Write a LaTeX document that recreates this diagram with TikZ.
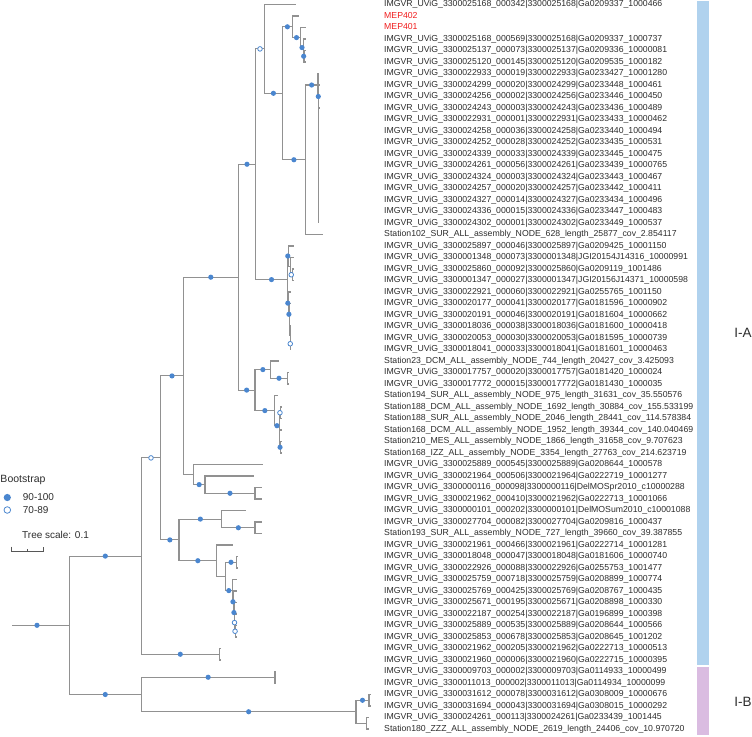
\documentclass[tikz,border=0pt]{standalone}
\usepackage{fontspec}
\setmainfont{Liberation Sans}
\usetikzlibrary{calc}
\definecolor{treegray}{RGB}{145,145,145}
\definecolor{bootblue}{RGB}{74,134,207}
\definecolor{labgray}{RGB}{45,45,45}
\definecolor{mepred}{RGB}{240,30,30}
\definecolor{barA}{RGB}{176,210,238}
\definecolor{barB}{RGB}{218,188,225}
\newcommand\rowy[1]{{4.5+(#1-1)*11.5}}
\newcommand\lab[2]{\node[lab] (l#1) at (384,\rowy{#1}) {\detokenize{#2}};}
\newcommand\tip[2]{\coordinate (t#1) at (#2,\rowy{#1});}
\newcommand\E[2]{\draw[br] (#1) |- (#2);}
\newcommand\sF[2]{\fill[bootblue] ($(#1|-#2)!0.5!(#2)$) circle[radius=2.6bp];}
\newcommand\sO[2]{\draw[bootblue,fill=white,line width=0.8bp] ($(#1|-#2)!0.5!(#2)$) circle[radius=2.3bp];}
\begin{document}
\begin{tikzpicture}[x=1bp,y=-1bp,
  br/.style={draw=treegray,line width=1.1bp},
  lab/.style={anchor=west,inner sep=0pt,text height=6.4bp,text depth=1.8bp,text=labgray,font=\fontsize{8.7bp}{10bp}\selectfont},
  leg/.style={anchor=west,inner sep=0pt,text=labgray,font=\fontsize{10bp}{12bp}\selectfont},
  clade/.style={inner sep=0pt,text=labgray,font=\fontsize{13.5bp}{15bp}\selectfont}]
\useasboundingbox (0,0) rectangle (752,737);

% clade bars
\fill[barA] (697,1.5) rectangle (709,665.3);
\fill[barB] (697,667.3) rectangle (709,735);
\node[clade] (cA) at (743,333) {I-A};
\node[clade] (cB) at (743,702) {I-B};

% labels
\lab{1}{IMGVR_UViG_3300025168_000342|3300025168|Ga0209337_1000466}
\node[lab,text=mepred] (l2) at (384,\rowy{2}) {MEP402};
\node[lab,text=mepred] (l3) at (384,\rowy{3}) {MEP401};
\lab{4}{IMGVR_UViG_3300025168_000569|3300025168|Ga0209337_1000737}
\lab{5}{IMGVR_UViG_3300025137_000073|3300025137|Ga0209336_10000081}
\lab{6}{IMGVR_UViG_3300025120_000145|3300025120|Ga0209535_1000182}
\lab{7}{IMGVR_UViG_3300022933_000019|3300022933|Ga0233427_10001280}
\lab{8}{IMGVR_UViG_3300024299_000020|3300024299|Ga0233448_1000461}
\lab{9}{IMGVR_UViG_3300024256_000002|3300024256|Ga0233446_1000450}
\lab{10}{IMGVR_UViG_3300024243_000003|3300024243|Ga0233436_1000489}
\lab{11}{IMGVR_UViG_3300022931_000001|3300022931|Ga0233433_10000462}
\lab{12}{IMGVR_UViG_3300024258_000036|3300024258|Ga0233440_1000494}
\lab{13}{IMGVR_UViG_3300024252_000028|3300024252|Ga0233435_1000531}
\lab{14}{IMGVR_UViG_3300024339_000033|3300024339|Ga0233445_1000475}
\lab{15}{IMGVR_UViG_3300024261_000056|3300024261|Ga0233439_10000765}
\lab{16}{IMGVR_UViG_3300024324_000003|3300024324|Ga0233443_1000467}
\lab{17}{IMGVR_UViG_3300024257_000020|3300024257|Ga0233442_1000411}
\lab{18}{IMGVR_UViG_3300024327_000014|3300024327|Ga0233434_1000496}
\lab{19}{IMGVR_UViG_3300024336_000015|3300024336|Ga0233447_1000483}
\lab{20}{IMGVR_UViG_3300024302_000001|3300024302|Ga0233449_1000537}
\lab{21}{Station102_SUR_ALL_assembly_NODE_628_length_25877_cov_2.854117}
\lab{22}{IMGVR_UViG_3300025897_000046|3300025897|Ga0209425_10001150}
\lab{23}{IMGVR_UViG_3300001348_000073|3300001348|JGI20154J14316_10000991}
\lab{24}{IMGVR_UViG_3300025860_000092|3300025860|Ga0209119_1001486}
\lab{25}{IMGVR_UViG_3300001347_000027|3300001347|JGI20156J14371_10000598}
\lab{26}{IMGVR_UViG_3300022921_000060|3300022921|Ga0255765_1001150}
\lab{27}{IMGVR_UViG_3300020177_000041|3300020177|Ga0181596_10000902}
\lab{28}{IMGVR_UViG_3300020191_000046|3300020191|Ga0181604_10000662}
\lab{29}{IMGVR_UViG_3300018036_000038|3300018036|Ga0181600_10000418}
\lab{30}{IMGVR_UViG_3300020053_000030|3300020053|Ga0181595_10000739}
\lab{31}{IMGVR_UViG_3300018041_000033|3300018041|Ga0181601_10000463}
\lab{32}{Station23_DCM_ALL_assembly_NODE_744_length_20427_cov_3.425093}
\lab{33}{IMGVR_UViG_3300017757_000020|3300017757|Ga0181420_1000024}
\lab{34}{IMGVR_UViG_3300017772_000015|3300017772|Ga0181430_1000035}
\lab{35}{Station194_SUR_ALL_assembly_NODE_975_length_31631_cov_35.550576}
\lab{36}{Station188_DCM_ALL_assembly_NODE_1692_length_30884_cov_155.533199}
\lab{37}{Station188_SUR_ALL_assembly_NODE_2046_length_28441_cov_114.578384}
\lab{38}{Station168_DCM_ALL_assembly_NODE_1952_length_39344_cov_140.040469}
\lab{39}{Station210_MES_ALL_assembly_NODE_1866_length_31658_cov_9.707623}
\lab{40}{Station168_IZZ_ALL_assembly_NODE_3354_length_27763_cov_214.623719}
\lab{41}{IMGVR_UViG_3300025889_000545|3300025889|Ga0208644_1000578}
\lab{42}{IMGVR_UViG_3300021964_000506|3300021964|Ga0222719_10001277}
\lab{43}{IMGVR_UViG_3300000116_000098|3300000116|DelMOSpr2010_c10000288}
\lab{44}{IMGVR_UViG_3300021962_000410|3300021962|Ga0222713_10001066}
\lab{45}{IMGVR_UViG_3300000101_000202|3300000101|DelMOSum2010_c10001088}
\lab{46}{IMGVR_UViG_3300027704_000082|3300027704|Ga0209816_1000437}
\lab{47}{Station193_SUR_ALL_assembly_NODE_727_length_39660_cov_39.387855}
\lab{48}{IMGVR_UViG_3300021961_000466|3300021961|Ga0222714_10001281}
\lab{49}{IMGVR_UViG_3300018048_000047|3300018048|Ga0181606_10000740}
\lab{50}{IMGVR_UViG_3300022926_000088|3300022926|Ga0255753_1001477}
\lab{51}{IMGVR_UViG_3300025759_000718|3300025759|Ga0208899_1000774}
\lab{52}{IMGVR_UViG_3300025769_000425|3300025769|Ga0208767_1000435}
\lab{53}{IMGVR_UViG_3300025671_000195|3300025671|Ga0208898_1000330}
\lab{54}{IMGVR_UViG_3300022187_000254|3300022187|Ga0196899_1000398}
\lab{55}{IMGVR_UViG_3300025889_000535|3300025889|Ga0208644_1000566}
\lab{56}{IMGVR_UViG_3300025853_000678|3300025853|Ga0208645_1001202}
\lab{57}{IMGVR_UViG_3300021962_000205|3300021962|Ga0222713_10000513}
\lab{58}{IMGVR_UViG_3300021960_000006|3300021960|Ga0222715_10000395}
\lab{59}{IMGVR_UViG_3300009703_000002|3300009703|Ga0114933_10000499}
\lab{60}{IMGVR_UViG_3300011013_000002|3300011013|Ga0114934_10000099}
\lab{61}{IMGVR_UViG_3300031612_000078|3300031612|Ga0308009_10000676}
\lab{62}{IMGVR_UViG_3300031694_000043|3300031694|Ga0308015_10000292}
\lab{63}{IMGVR_UViG_3300024261_000113|3300024261|Ga0233439_1001445}
\lab{64}{Station180_ZZZ_ALL_assembly_NODE_2619_length_24406_cov_10.970720}

% tips
\tip{1}{296}\tip{2}{299.3}\tip{3}{306}\tip{4}{305.5}\tip{5}{305.5}\tip{6}{305.5}
\tip{7}{318.6}\tip{8}{318.8}\tip{9}{318.8}\tip{10}{318.8}\tip{11}{318.8}\tip{12}{318.8}
\tip{13}{318.8}\tip{14}{318.8}\tip{15}{318.8}\tip{16}{318.8}\tip{17}{318.8}\tip{18}{318.8}
\tip{19}{318.8}\tip{20}{318.8}\tip{21}{323.3}
\tip{22}{293.5}\tip{23}{293.5}\tip{24}{293.5}\tip{25}{293.5}
\tip{26}{291.2}\tip{27}{291.2}\tip{28}{291.2}\tip{29}{291.2}\tip{30}{291.2}\tip{31}{291.2}
\tip{32}{279.3}\tip{33}{288.8}\tip{34}{288.8}\tip{35}{277.7}
\tip{36}{281.8}\tip{37}{281.8}\tip{38}{281.5}\tip{39}{281.5}\tip{40}{281.5}
\tip{41}{263.3}\tip{42}{254}\tip{43}{261.7}\tip{44}{261.7}
\tip{45}{245.7}\tip{46}{261.7}\tip{47}{261.7}\tip{48}{233.3}\tip{49}{238}\tip{50}{238}
\tip{51}{236.5}\tip{52}{236.5}\tip{53}{236.5}\tip{54}{236.5}\tip{55}{236.5}\tip{56}{236.5}
\tip{57}{220.5}\tip{58}{220.5}\tip{59}{276}\tip{60}{276}
\tip{61}{371}\tip{62}{371}\tip{63}{368.5}\tip{64}{368.5}

% internal nodes
\coordinate (r0) at (12,625.3);
\coordinate (root) at (69.3,625.3);
\coordinate (n1_58) at (141.3,556.1);
\coordinate (n59_64) at (141.3,694.5);
\coordinate (n57_58) at (219.3,654.25);
\coordinate (n1_56) at (160.7,457.9);
\coordinate (n1_44) at (183.3,375.9);
\coordinate (n41_44) at (193.3,474.55);
\coordinate (n42_44) at (205,484.6);
\coordinate (n43_44) at (255,493.25);
\coordinate (n1_40) at (238.3,277.2);
\coordinate (n1_31) at (255.7,164.25);
\coordinate (n1A) at (264.3,48.9);
\coordinate (nA) at (282.5,93.3);
\coordinate (n26) at (292.3,26.8);
\coordinate (n36) at (300.7,37.6);
\coordinate (n46) at (303.3,47.6);
\coordinate (n56) at (304,56.25);
\coordinate (n7_21) at (305.3,159.75);
\coordinate (L7) at (318.0,85);
\coordinate (L8) at (318.6,96.5);
\coordinate (L9) at (318.8,108.0);
\coordinate (L10) at (318.8,119.49);
\coordinate (L11) at (318.8,130.98);
\coordinate (L12) at (318.8,142.46);
\coordinate (L13) at (318.8,153.91);
\coordinate (L14) at (318.8,165.32);
\coordinate (L15) at (318.8,176.64);
\coordinate (L16) at (318.8,187.78);
\coordinate (L17) at (318.8,198.56);
\coordinate (L18) at (318.8,208.63);
\coordinate (L19) at (318.8,217.25);
\coordinate (n22_31) at (287.3,279.6);
\coordinate (n22_25) at (288.3,256.05);
\coordinate (n23_25) at (290.3,266.1);
\coordinate (n24_25) at (292.2,274.75);
\coordinate (n26_31) at (288.3,303.14);
\coordinate (n27_31) at (289.5,314.28);
\coordinate (n28_31) at (289.8,325.06);
\coordinate (n29_31) at (290.1,335.1);
\coordinate (n30_31) at (290.4,343.75);
\coordinate (n32_40) at (255,390.1);
\coordinate (n32_34) at (270.7,369.6);
\coordinate (n33_34) at (287.3,378.25);
\coordinate (n35_40) at (274.7,410.6);
\coordinate (n36_40) at (279.2,425.7);
\coordinate (n36_37) at (280.7,412.75);
\coordinate (n38_40) at (279.8,438.6);
\coordinate (n39_40) at (280.3,447.25);
\coordinate (n45_56) at (179,539.9);
\coordinate (n45_47) at (221.7,519.1);
\coordinate (n46_47) at (255,527.75);
\coordinate (n48_56) at (216.7,560.7);
\coordinate (n49_56) at (225.3,576.4);
\coordinate (n49_50) at (236.7,562.25);
\coordinate (n51_56) at (232.3,590.6);
\coordinate (n52_56) at (233.6,601.8);
\coordinate (n53_56) at (234.2,612.55);
\coordinate (n54_56) at (234.8,622.6);
\coordinate (n55_56) at (235.3,631.25);
\coordinate (n59_60) at (275,677.25);
\coordinate (n61_64) at (356,711.75);
\coordinate (n61_62) at (369,700.25);
\coordinate (n63_64) at (366.7,723.25);

% branches
\draw[br] (r0) -- (root);
\E{root}{n1_58}\E{root}{n59_64}
\E{n1_58}{n1_56}\E{n1_58}{n57_58}
\E{n57_58}{t57}\E{n57_58}{t58}
\E{n1_56}{n1_44}\E{n1_56}{n45_56}
\E{n1_44}{n1_40}\E{n1_44}{n41_44}
\E{n41_44}{t41}\E{n41_44}{n42_44}
\E{n42_44}{t42}\E{n42_44}{n43_44}
\E{n43_44}{t43}\E{n43_44}{t44}
\E{n1_40}{n1_31}\E{n1_40}{n32_40}
\E{n1_31}{n1A}\E{n1_31}{n22_31}
\E{n1A}{t1}\E{n1A}{nA}
\E{nA}{n26}\E{nA}{n7_21}
\E{n26}{t2}\E{n26}{n36}
\E{n36}{t3}\E{n36}{n46}
\E{n46}{t4}\E{n46}{n56}
\E{n56}{t5}\E{n56}{t6}
\E{n7_21}{L7}\E{n7_21}{t21}
\E{L7}{t7}\E{L7}{L8}
\E{L8}{t8}\E{L8}{L9}
\E{L9}{t9}\E{L9}{L10}
\E{L10}{t10}\E{L10}{L11}
\E{L11}{t11}\E{L11}{L12}
\E{L12}{t12}\E{L12}{L13}
\E{L13}{t13}\E{L13}{L14}
\E{L14}{t14}\E{L14}{L15}
\E{L15}{t15}\E{L15}{L16}
\E{L16}{t16}\E{L16}{L17}
\E{L17}{t17}\E{L17}{L18}
\E{L18}{t18}\E{L18}{L19}
\E{L19}{t19}\E{L19}{t20}
\E{n22_31}{n22_25}\E{n22_31}{n26_31}
\E{n22_25}{t22}\E{n22_25}{n23_25}
\E{n23_25}{t23}\E{n23_25}{n24_25}
\E{n24_25}{t24}\E{n24_25}{t25}
\E{n26_31}{t26}\E{n26_31}{n27_31}
\E{n27_31}{t27}\E{n27_31}{n28_31}
\E{n28_31}{t28}\E{n28_31}{n29_31}
\E{n29_31}{t29}\E{n29_31}{n30_31}
\E{n30_31}{t30}\E{n30_31}{t31}
\E{n32_40}{n32_34}\E{n32_40}{n35_40}
\E{n32_34}{t32}\E{n32_34}{n33_34}
\E{n33_34}{t33}\E{n33_34}{t34}
\E{n35_40}{t35}\E{n35_40}{n36_40}
\E{n36_40}{n36_37}\E{n36_40}{n38_40}
\E{n36_37}{t36}\E{n36_37}{t37}
\E{n38_40}{t38}\E{n38_40}{n39_40}
\E{n39_40}{t39}\E{n39_40}{t40}
\E{n45_56}{n45_47}\E{n45_56}{n48_56}
\E{n45_47}{t45}\E{n45_47}{n46_47}
\E{n46_47}{t46}\E{n46_47}{t47}
\E{n48_56}{t48}\E{n48_56}{n49_56}
\E{n49_56}{n49_50}\E{n49_56}{n51_56}
\E{n49_50}{t49}\E{n49_50}{t50}
\E{n51_56}{t51}\E{n51_56}{n52_56}
\E{n52_56}{t52}\E{n52_56}{n53_56}
\E{n53_56}{t53}\E{n53_56}{n54_56}
\E{n54_56}{t54}\E{n54_56}{n55_56}
\E{n55_56}{t55}\E{n55_56}{t56}
\E{n59_64}{n59_60}\E{n59_64}{n61_64}
\E{n59_60}{t59}\E{n59_60}{t60}
\E{n61_64}{n61_62}\E{n61_64}{n63_64}
\E{n61_62}{t61}\E{n61_62}{t62}
\E{n63_64}{t63}\E{n63_64}{t64}

% bootstrap symbols
\fill[bootblue] (37,625.3) circle[radius=2.6bp];
\sF{root}{n1_58}\sF{root}{n59_64}
\sO{n1_58}{n1_56}\sF{n1_58}{n57_58}
\sF{n1_56}{n1_44}\sF{n1_56}{n45_56}
\sF{n1_44}{n1_40}
\sF{n41_44}{n42_44}\sF{n42_44}{n43_44}
\sF{n1_40}{n1_31}\sF{n1_40}{n32_40}
\sO{n1_31}{n1A}\sF{n1_31}{n22_31}
\sF{n1A}{nA}
\sF{nA}{n26}\sF{nA}{n7_21}
\sF{n26}{n36}\sF{n36}{n46}\sF{n46}{n56}
\sF{n7_21}{L7}\sF{L7}{L8}
\sF{n22_31}{n22_25}\sO{n23_25}{n24_25}
\sF{n22_31}{n26_31}\sF{n26_31}{n27_31}\sO{n29_31}{n30_31}
\sF{n32_40}{n32_34}\sF{n32_34}{n33_34}
\sF{n32_40}{n35_40}\sF{n35_40}{n36_40}\sO{n36_40}{n36_37}\sF{n38_40}{n39_40}
\sF{n45_56}{n45_47}\sF{n45_47}{n46_47}
\sF{n45_56}{n48_56}
\sF{n49_56}{n49_50}\sF{n49_56}{n51_56}
\sF{n51_56}{n52_56}\sF{n52_56}{n53_56}\sO{n53_56}{n54_56}\sO{n54_56}{n55_56}
\sF{n59_64}{n59_60}\sF{n59_64}{n61_64}\sF{n61_64}{n61_62}

% legend
\node[leg,font=\fontsize{10.5bp}{12bp}\selectfont] (bs) at (0.3,480) {Bootstrap};
\fill[bootblue] (7.3,497.5) circle[radius=3.6bp];
\draw[bootblue,fill=white,line width=0.8bp] (7.3,510) circle[radius=3.3bp];
\node[leg] (b1) at (22.7,497.5) {90-100};
\node[leg] (b2) at (22.7,510) {70-89};

% tree scale
\node[leg] (ts) at (22,534.5) {Tree scale: 0.1};
\draw[draw=labgray!80,line width=0.8bp] (11.7,546.5) -- (11.7,551) -- (43.3,551) -- (43.3,546.5);
\draw[draw=labgray!80,line width=0.8bp] (27.5,551) -- (27.5,548.5);
\end{tikzpicture}
\end{document}
